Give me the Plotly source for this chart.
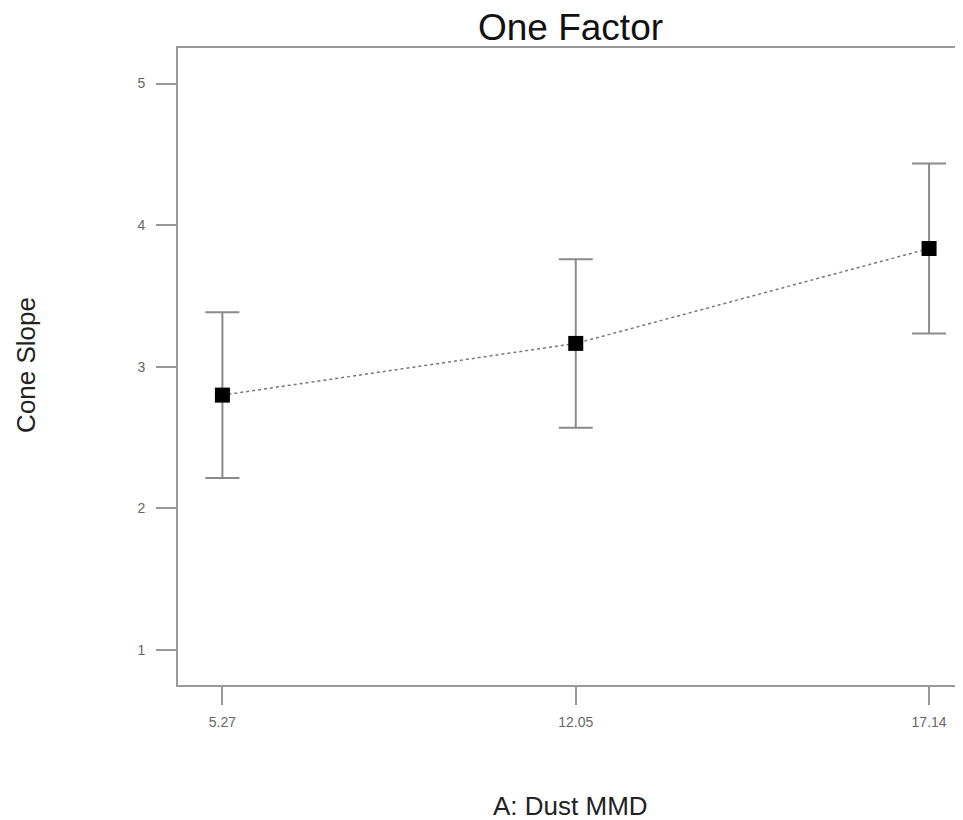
import plotly.graph_objects as go

categories = ["5.27", "12.05", "17.14"]
means = [2.80, 3.165, 3.835]
errors = [0.585, 0.595, 0.600]
y_ticks = [1, 2, 3, 4, 5]

fig = go.Figure()
fig.add_trace(go.Scatter(
    x=categories, y=means,
    mode="lines+markers",
    line=dict(color="#777777", width=1.5, dash="dot"),
    marker=dict(symbol="square", size=15, color="black"),
    error_y=dict(type="data", array=errors, visible=True,
                 color="#8a8a8a", thickness=2, width=17),
    showlegend=False,
))

fig.update_layout(
    width=955, height=812,
    paper_bgcolor="white", plot_bgcolor="white",
    margin=dict(l=170, r=0, t=40, b=135),
    font=dict(family="Arial, Liberation Sans, sans-serif", color="#444444"),
    title=dict(text="One Factor", x=0.5, xref="paper", y=0.9766, yanchor="middle",
               font=dict(size=37, color="#111111")),
    xaxis=dict(type="category", range=[-0.1257, 2.096],
               showline=True, linecolor="#999999", linewidth=2, mirror=True,
               ticks="outside", ticklen=18, tickcolor="#999999", tickwidth=2,
               ticklabelstandoff=5,
               showgrid=False, zeroline=False,
               tickfont=dict(size=14, color="#666666")),
    yaxis=dict(range=[0.753, 5.251], tickvals=y_ticks,
               showline=True, linecolor="#999999", linewidth=2, mirror=False,
               ticks="outside", ticklen=20, tickcolor="#999999", tickwidth=2,
               ticklabelstandoff=8,
               showgrid=False, zeroline=False,
               tickfont=dict(size=14, color="#666666")),
    annotations=[
        dict(text="A: Dust MMD", xref="paper", yref="paper", x=0.5004, y=-0.19,
             xanchor="center", yanchor="middle", showarrow=False,
             font=dict(size=26, color="#222222")),
        dict(text="Cone Slope", xref="paper", yref="paper", x=-0.1928, y=0.502,
             xanchor="center", yanchor="middle", showarrow=False, textangle=-90,
             font=dict(size=26, color="#222222")),
    ],
)

fig.write_html("out.html")
